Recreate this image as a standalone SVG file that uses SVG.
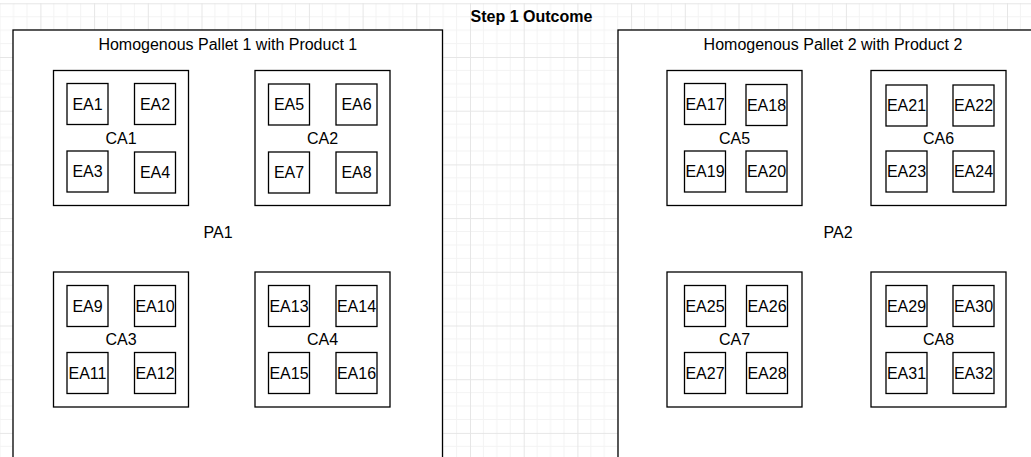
<svg xmlns="http://www.w3.org/2000/svg" width="1031" height="457" viewBox="0 0 1031 457">
<style>
.box{fill:#fff;stroke:#000;stroke-width:1.3}
.t{font-family:"Liberation Sans",Arial,sans-serif;font-size:16px;fill:#000;text-anchor:middle}
.title{font-weight:bold}
</style>
<defs>
<pattern id="grid" x="40.4" y="3.3" width="53.7" height="53.7" patternUnits="userSpaceOnUse">
<path d="M13.425 0V53.7M26.85 0V53.7M40.275 0V53.7M0 13.425H53.7M0 26.85H53.7M0 40.275H53.7" stroke="#f3f3f3" stroke-width="1" fill="none"/>
<path d="M0.5 0V53.7M0 0.5H53.7" stroke="#e6e6e6" stroke-width="1" fill="none"/>
</pattern>
</defs>
<rect width="1031" height="457" fill="#fff"/>
<rect x="0" y="3" width="1031" height="454" fill="url(#grid)"/>
<g id="title"><text class="t title" x="531.5" y="22">Step 1 Outcome</text></g>
<g id="connectors"/>
<g id="PA1"><rect class="box" x="13" y="30" width="429.5" height="460"/><text class="t" x="227.8" y="50">Homogenous Pallet 1 with Product 1</text><text class="t" x="218" y="238">PA1</text></g>
<g id="PA2"><rect class="box" x="618" y="30" width="430" height="460"/><text class="t" x="833" y="50">Homogenous Pallet 2 with Product 2</text><text class="t" x="838" y="238">PA2</text></g>
<g id="CA1"><rect class="box" x="53.5" y="70.5" width="135" height="135"/><text class="t" x="121" y="143.7">CA1</text></g>
<g id="CA2"><rect class="box" x="255" y="70.5" width="135" height="135"/><text class="t" x="322.5" y="143.7">CA2</text></g>
<g id="CA3"><rect class="box" x="53.5" y="272" width="135" height="135"/><text class="t" x="121" y="345.2">CA3</text></g>
<g id="CA4"><rect class="box" x="255" y="272" width="135" height="135"/><text class="t" x="322.5" y="345.2">CA4</text></g>
<g id="CA5"><rect class="box" x="667" y="70.5" width="135" height="135"/><text class="t" x="734.5" y="143.7">CA5</text></g>
<g id="CA6"><rect class="box" x="871" y="70.5" width="135" height="135"/><text class="t" x="938.5" y="143.7">CA6</text></g>
<g id="CA7"><rect class="box" x="667" y="272" width="135" height="135"/><text class="t" x="734.5" y="345.2">CA7</text></g>
<g id="CA8"><rect class="box" x="871" y="272" width="135" height="135"/><text class="t" x="938.5" y="345.2">CA8</text></g>
<g id="EA1"><rect class="box" x="67" y="83.5" width="41" height="41"/><text class="t" x="87.5" y="109.7">EA1</text></g>
<g id="EA2"><rect class="box" x="134.5" y="83.5" width="41" height="41"/><text class="t" x="155" y="109.7">EA2</text></g>
<g id="EA3"><rect class="box" x="67" y="151" width="41" height="41"/><text class="t" x="87.5" y="177.2">EA3</text></g>
<g id="EA4"><rect class="box" x="134.5" y="152" width="41" height="41"/><text class="t" x="155" y="178.2">EA4</text></g>
<g id="EA5"><rect class="box" x="268.5" y="84" width="41" height="41"/><text class="t" x="289" y="110.2">EA5</text></g>
<g id="EA6"><rect class="box" x="336" y="84" width="41" height="41"/><text class="t" x="356.5" y="110.2">EA6</text></g>
<g id="EA7"><rect class="box" x="268.5" y="152" width="41" height="41"/><text class="t" x="289" y="178.2">EA7</text></g>
<g id="EA8"><rect class="box" x="336" y="152" width="41" height="41"/><text class="t" x="356.5" y="178.2">EA8</text></g>
<g id="EA9"><rect class="box" x="67" y="285.5" width="41" height="41"/><text class="t" x="87.5" y="311.7">EA9</text></g>
<g id="EA10"><rect class="box" x="134.5" y="285.5" width="41" height="41"/><text class="t" x="155" y="311.7">EA10</text></g>
<g id="EA11"><rect class="box" x="67" y="352.5" width="41" height="41"/><text class="t" x="87.5" y="378.7">EA11</text></g>
<g id="EA12"><rect class="box" x="134.5" y="352.5" width="41" height="41"/><text class="t" x="155" y="378.7">EA12</text></g>
<g id="EA13"><rect class="box" x="268.5" y="285.5" width="41" height="41"/><text class="t" x="289" y="311.7">EA13</text></g>
<g id="EA14"><rect class="box" x="336" y="285.5" width="41" height="41"/><text class="t" x="356.5" y="311.7">EA14</text></g>
<g id="EA15"><rect class="box" x="268.5" y="352.5" width="41" height="41"/><text class="t" x="289" y="378.7">EA15</text></g>
<g id="EA16"><rect class="box" x="336" y="352.5" width="41" height="41"/><text class="t" x="356.5" y="378.7">EA16</text></g>
<g id="EA17"><rect class="box" x="684.5" y="83.5" width="41" height="41"/><text class="t" x="705" y="109.7">EA17</text></g>
<g id="EA18"><rect class="box" x="746" y="84.5" width="41" height="41"/><text class="t" x="766.5" y="110.7">EA18</text></g>
<g id="EA19"><rect class="box" x="684.5" y="151" width="41" height="41"/><text class="t" x="705" y="177.2">EA19</text></g>
<g id="EA20"><rect class="box" x="746" y="151" width="41" height="41"/><text class="t" x="766.5" y="177.2">EA20</text></g>
<g id="EA21"><rect class="box" x="886" y="85" width="41" height="41"/><text class="t" x="906.5" y="111.2">EA21</text></g>
<g id="EA22"><rect class="box" x="953" y="85" width="41" height="41"/><text class="t" x="973.5" y="111.2">EA22</text></g>
<g id="EA23"><rect class="box" x="886" y="151" width="41" height="41"/><text class="t" x="906.5" y="177.2">EA23</text></g>
<g id="EA24"><rect class="box" x="953" y="151" width="41" height="41"/><text class="t" x="973.5" y="177.2">EA24</text></g>
<g id="EA25"><rect class="box" x="684.5" y="285.5" width="41" height="41"/><text class="t" x="705" y="311.7">EA25</text></g>
<g id="EA26"><rect class="box" x="746.5" y="285.5" width="41" height="41"/><text class="t" x="767" y="311.7">EA26</text></g>
<g id="EA27"><rect class="box" x="684.5" y="352.5" width="41" height="41"/><text class="t" x="705" y="378.7">EA27</text></g>
<g id="EA28"><rect class="box" x="746.5" y="352.5" width="41" height="41"/><text class="t" x="767" y="378.7">EA28</text></g>
<g id="EA29"><rect class="box" x="886" y="285.5" width="41" height="41"/><text class="t" x="906.5" y="311.7">EA29</text></g>
<g id="EA30"><rect class="box" x="953" y="285.5" width="41" height="41"/><text class="t" x="973.5" y="311.7">EA30</text></g>
<g id="EA31"><rect class="box" x="886" y="352.5" width="41" height="41"/><text class="t" x="906.5" y="378.7">EA31</text></g>
<g id="EA32"><rect class="box" x="953" y="352.5" width="41" height="41"/><text class="t" x="973.5" y="378.7">EA32</text></g>
</svg>
